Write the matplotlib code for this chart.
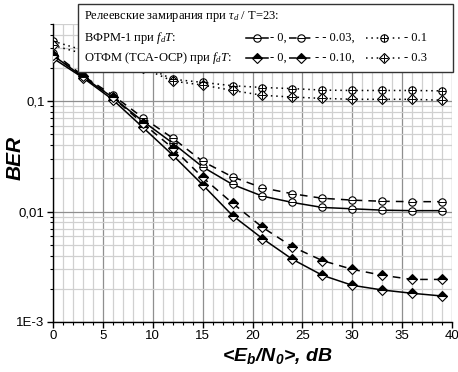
import matplotlib
matplotlib.use("Agg")
import matplotlib.pyplot as plt
from matplotlib.patches import Rectangle
from matplotlib.ticker import FixedLocator, FuncFormatter, LogLocator, MultipleLocator, NullFormatter

plt.rcParams['font.family'] = ['Liberation Sans', 'DejaVu Sans']
plt.rcParams['mathtext.fontset'] = 'custom'
plt.rcParams['mathtext.rm'] = 'Liberation Serif'
plt.rcParams['mathtext.it'] = 'Liberation Serif:italic'
plt.rcParams['mathtext.bf'] = 'Liberation Sans:bold:italic'

snr = [0, 3, 6, 9, 12, 15, 18, 21, 24, 27, 30, 33, 36, 39]

vfrm_0 = [0.26, 0.166, 0.108, 0.066, 0.0417, 0.0254, 0.0176, 0.0138, 0.0121,
          0.0109, 0.0106, 0.0103, 0.0102, 0.0102]
vfrm_003 = [0.275, 0.17, 0.113, 0.071, 0.0463, 0.0285, 0.0206, 0.0164, 0.0145,
            0.0132, 0.0127, 0.0124, 0.0123, 0.0123]
vfrm_01 = [0.35, 0.29, 0.24, 0.21, 0.158, 0.148, 0.138, 0.133, 0.130,
           0.126, 0.125, 0.125, 0.125, 0.124]
otfm_0 = [0.245, 0.163, 0.103, 0.058, 0.0325, 0.0175, 0.0092, 0.0057, 0.0037,
          0.00265, 0.00215, 0.00195, 0.00182, 0.00172]
otfm_010 = [0.26, 0.168, 0.108, 0.063, 0.0376, 0.0204, 0.0119, 0.0072, 0.0048,
            0.0036, 0.0030, 0.00265, 0.00243, 0.00243]
otfm_03 = [0.32, 0.27, 0.23, 0.20, 0.152, 0.14, 0.125, 0.113, 0.109,
           0.106, 0.104, 0.104, 0.104, 0.102]

y_ticks = [1e-3, 1e-2, 1e-1]
y_labels = ["1E-3", "0,01", "0,1"]

SOLID = '-'
DASHED = (0, (5, 4))
DOTTED = (0, (1, 2.5))

# (values, linestyle, base marker style, overlay marker)
series = [
    (vfrm_0, SOLID, 'circ', '_'),
    (vfrm_003, DASHED, 'circ', '_'),
    (vfrm_01, DOTTED, 'circ', '+'),
    (otfm_0, SOLID, 'dia', None),
    (otfm_010, DASHED, 'dia', None),
    (otfm_03, DOTTED, 'dia_open', '+'),
]

MS = 5.3


def marker_style(kind):
    if kind == 'circ':
        return dict(marker='o', ms=MS, mfc='white', mec='black', mew=0.8)
    if kind == 'dia':
        return dict(marker='D', ms=MS * 0.9, fillstyle='top', mfc='black',
                    mfcalt='white', mec='black', mew=0.8)
    return dict(marker='D', ms=MS * 0.9, mfc='white', mec='black', mew=0.8)


def draw(axis, xs, ys, ls, kind, over, lw=1.1, z=3):
    axis.plot(xs, ys, color='black', lw=lw, ls=ls, zorder=z)
    axis.plot(xs, ys, ls='none', zorder=z + 0.1, **marker_style(kind))
    if over is not None:
        axis.plot(xs, ys, ls='none', marker=over, ms=MS, mew=0.7,
                  color='black', zorder=z + 0.2)


fig = plt.figure(figsize=(4.58, 3.72), dpi=100)
ax = fig.add_axes([53 / 458, 1 - 322 / 372, 399 / 458, 298 / 372])

for vals, ls, kind, over in series:
    draw(ax, snr, vals, ls, kind, over)

ax.set_yscale('log')
ax.set_xlim(0, 40)
ax.set_ylim(1e-3, 0.5)
ax.xaxis.set_major_locator(MultipleLocator(5))
ax.xaxis.set_minor_locator(MultipleLocator(1))
ax.yaxis.set_major_locator(FixedLocator(y_ticks))
ax.yaxis.set_major_formatter(FuncFormatter(lambda v, p: y_labels[y_ticks.index(v)] if v in y_ticks else ""))
ax.yaxis.set_minor_locator(LogLocator(base=10, subs=range(2, 10)))
ax.yaxis.set_minor_formatter(NullFormatter())

ax.grid(which='major', color='#8f8f8f', lw=0.9)
ax.grid(which='minor', color='#d0d0d0', lw=0.9)
ax.set_axisbelow(True)
for s in ['top', 'right']:
    ax.spines[s].set_visible(False)
for s in ['left', 'bottom']:
    ax.spines[s].set_linewidth(1.0)
ax.tick_params(which='major', direction='out', length=4, width=1, labelsize=9.5, pad=2)
ax.tick_params(which='minor', direction='out', length=2.5, width=0.8)

fig.text(15 / 458, 1 - 158 / 372, "BER", rotation=90, ha='center', va='center',
         fontsize=15, fontweight='bold', style='italic')
fig.text(277 / 458, 1 - 356 / 372, r"<$\mathbf{E_b/N_0}$>, dB", ha='center', va='center',
         fontsize=14, fontweight='bold', style='italic')

# legend box drawn in figure pixel coordinates
lg = fig.add_axes([0, 0, 1, 1], zorder=10)
lg.set_xlim(0, 458)
lg.set_ylim(372, 0)
lg.axis('off')
lg.add_patch(Rectangle((78, 4), 375, 68, facecolor='white', edgecolor='#333333', lw=1.0))

serif = ['Liberation Serif', 'DejaVu Serif']
lg.text(84, 17, r"Релеевские замирания при $\tau_d$ / T=23:", family=serif, fontsize=9, va='center')
lg.text(84, 38, r"ВФРМ-1 при $f_dT$:", family=serif, fontsize=9, va='center')
lg.text(84, 58, r"ОТФМ (ТСА-ОСР) при $f_dT$:", family=serif, fontsize=9, va='center')

rows = [
    (38, [(SOLID, 'circ', '_', "- 0,"), (DASHED, 'circ', '_', "- - 0.03,"), (DOTTED, 'circ', '+', "- 0.1")]),
    (58, [(SOLID, 'dia', None, "- 0,"), (DASHED, 'dia', None, "- - 0.10,"), (DOTTED, 'dia_open', '+', "- 0.3")]),
]
h_x = [(246, 268), (289, 313), (366, 401)]
t_x = [270, 315, 404]
for y, items in rows:
    for (ls, kind, over, lab), (x0, x1), tx in zip(items, h_x, t_x):
        lg.plot([x0, x1], [y, y], color='black', lw=1.1, ls=ls)
        xm = (x0 + x1) / 2
        lg.plot([xm], [y], ls='none', **marker_style(kind))
        if over is not None:
            lg.plot([xm], [y], ls='none', marker=over, ms=MS, mew=0.7, color='black')
        lg.text(tx, y, lab, family=serif, fontsize=9, va='center')

fig.savefig("out.png", dpi=100)
